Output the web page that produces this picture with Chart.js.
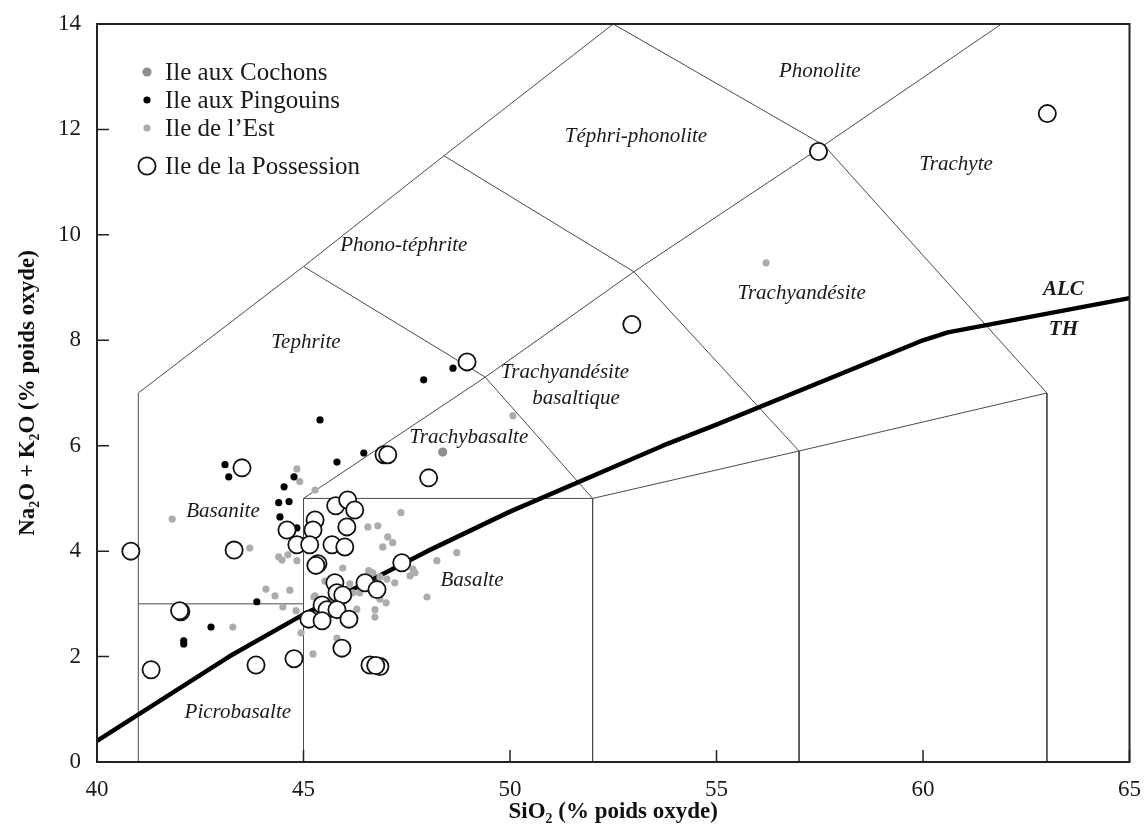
<!DOCTYPE html>
<html><head><meta charset="utf-8">
<script src="https://cdn.jsdelivr.net/npm/chart.js@4.4.0/dist/chart.umd.min.js"></script>
<style>html,body{margin:0;padding:0;background:#fff}canvas{display:block}</style>
</head><body>
<canvas id="c" width="1147" height="828"></canvas>
<script>
// ---------- data ----------
const xTicks = [40, 45, 50, 55, 60, 65];
const yTicks = [0, 2, 4, 6, 8, 10, 12, 14];

const seriesNames = ['Ile aux Cochons', 'Ile aux Pingouins', "Ile de l\u2019Est", 'Ile de la Possession'];

const cochonsSiO2 = [48.37];
const cochonsAlk  = [5.88];

const pingouinsSiO2 = [43.10, 43.19, 44.53, 44.77, 44.40, 44.65, 44.43, 44.84, 45.40, 45.81, 46.46, 47.91, 48.62, 43.87, 42.76, 42.10, 42.10];
const pingouinsAlk  = [5.64, 5.41, 5.22, 5.41, 4.92, 4.94, 4.65, 4.44, 6.49, 5.69, 5.86, 7.25, 7.47, 3.04, 2.56, 2.30, 2.24];

const estSiO2 = [44.84, 44.91, 41.82, 45.28, 43.70, 44.40, 44.48, 44.62, 44.84, 44.09, 44.31, 44.67, 44.50, 44.82, 43.29, 44.94, 45.23, 45.25,
                 47.36, 46.56, 46.80, 47.04, 47.16, 46.92, 48.71, 48.23, 45.95, 47.65, 47.70, 47.58, 46.58, 46.68, 46.85, 47.02, 47.21,
                 45.52, 46.12, 46.36, 46.20, 46.85, 47.00, 47.99, 46.73, 46.73, 45.81, 45.64, 45.28, 46.29, 56.20, 50.07];
const estAlk  = [5.56, 5.32, 4.61, 5.16, 4.06, 3.89, 3.83, 3.93, 3.82, 3.28, 3.15, 3.26, 2.94, 2.87, 2.56, 2.45, 2.05, 3.13,
                 4.73, 4.46, 4.48, 4.27, 4.16, 4.08, 3.97, 3.82, 3.68, 3.66, 3.59, 3.53, 3.63, 3.59, 3.51, 3.47, 3.40,
                 3.43, 3.38, 3.21, 3.21, 3.09, 3.02, 3.13, 2.89, 2.75, 2.35, 3.08, 3.15, 2.90, 9.47, 6.57];

const possessionSiO2 = [40.82, 41.31, 42.03, 42.00, 43.51, 43.32, 43.85, 44.77, 48.96, 52.95, 57.47, 63.01, 46.95, 47.04, 48.03,
                        45.78, 46.07, 46.24, 45.28, 45.23, 46.05, 44.60, 44.84, 45.15, 45.69, 46.00, 45.35, 45.30, 47.38,
                        45.76, 46.49, 46.78, 45.81, 45.95, 45.45, 45.57, 45.81, 45.13, 45.45, 46.10, 45.93, 46.61, 46.85, 46.75];
const possessionAlk  = [4.00, 1.75, 2.85, 2.87, 5.58, 4.02, 1.84, 1.96, 7.59, 8.30, 11.58, 12.30, 5.83, 5.83, 5.39,
                        4.86, 4.97, 4.78, 4.59, 4.40, 4.46, 4.40, 4.12, 4.12, 4.12, 4.08, 3.76, 3.73, 3.78,
                        3.40, 3.40, 3.27, 3.21, 3.17, 2.98, 2.89, 2.89, 2.71, 2.68, 2.71, 2.16, 1.84, 1.81, 1.83];

// TAS field boundaries (Le Bas et al.)
const fieldLines = [
  [[41,0],[41,7],[45,9.4],[48.4,11.5],[52.5,14]],
  [[41,3],[45,3]],
  [[45,0],[45,5],[52,5],[52,0]],
  [[45,5],[49.4,7.3],[53,9.3],[57.6,11.7],[61.9,14]],
  [[45,9.4],[49.4,7.3],[52,5]],
  [[48.4,11.5],[53,9.3],[57,5.9],[57,0]],
  [[52.5,14],[57.6,11.7],[63,7],[63,0]],
  [[52,5],[57,5.9],[63,7]]
];

// Alkaline / tholeiitic divide
const divideSiO2 = [40, 43.2, 45, 48, 50, 53.7, 55, 60, 60.6, 65];
const divideAlk  = [0.4, 2.0, 2.8, 4.0, 4.75, 6.0, 6.4, 8.0, 8.15, 8.8];

const regionNames = ['Phonolite', 'T\u00e9phri-phonolite', 'Trachyte', 'Phono-t\u00e9phrite', 'Trachyand\u00e9site', 'Tephrite',
                     'Trachyand\u00e9site', 'basaltique', 'Trachybasalte', 'Basanite', 'Basalte', 'Picrobasalte'];
const regionX = [57.5, 53.05, 60.8, 47.43, 57.06, 45.06, 51.33, 51.6, 49.0, 43.05, 49.08, 43.41];
const regionY = [13.1, 11.86, 11.33, 9.8, 8.88, 7.95, 7.38, 6.9, 6.15, 4.75, 3.44, 0.93];

const divideLabels = ['ALC', 'TH'];
const divideLabelX = [63.4, 63.4];
const divideLabelY = [8.96, 8.2];

// ---------- build ----------
const zip = (xs, ys) => xs.map((x, i) => ({x, y: ys[i]}));
const serif = "'Liberation Serif', 'Times New Roman', serif";

const styles = [
  {bg: '#8e8e8e', border: '#8e8e8e', r: 4.6, bw: 0},
  {bg: '#000000', border: '#000000', r: 3.6, bw: 0},
  {bg: '#acacac', border: '#acacac', r: 3.6, bw: 0},
  {bg: '#ffffff', border: '#111111', r: 8.6, bw: 1.8}
];

const datasets = [];
fieldLines.forEach(l => datasets.push({
  data: l.map(p => ({x: p[0], y: p[1]})), showLine: true, borderColor: '#4a4a4a', borderWidth: 1,
  pointRadius: 0, fill: false, order: 20, tension: 0
}));
datasets.push({data: zip(divideSiO2, divideAlk), showLine: true, borderColor: '#000', borderWidth: 4.5,
  pointRadius: 0, fill: false, order: 10, tension: 0, borderJoinStyle: 'round', borderCapStyle: 'butt'});

const seriesData = [zip(cochonsSiO2, cochonsAlk), zip(pingouinsSiO2, pingouinsAlk), zip(estSiO2, estAlk), zip(possessionSiO2, possessionAlk)];
const seriesOrder = [3, 2, 4, 1];
seriesData.forEach((d, i) => datasets.push({
  label: seriesNames[i], data: d, showLine: false,
  pointRadius: styles[i].r, pointBackgroundColor: styles[i].bg, pointBorderColor: styles[i].border,
  pointBorderWidth: styles[i].bw, pointHoverRadius: styles[i].r, order: seriesOrder[i]
}));

const decor = {
  id: 'decor',
  beforeDatasetsDraw(chart) {
    const {ctx, scales: {x, y}} = chart;
    ctx.save();
    ctx.fillStyle = '#1a1a1a';
    ctx.font = 'italic 21px ' + serif;
    ctx.textAlign = 'center'; ctx.textBaseline = 'middle';
    regionNames.forEach((n, i) => ctx.fillText(n, x.getPixelForValue(regionX[i]), y.getPixelForValue(regionY[i])));
    ctx.font = 'bold italic 21px ' + serif;
    divideLabels.forEach((n, i) => ctx.fillText(n, x.getPixelForValue(divideLabelX[i]), y.getPixelForValue(divideLabelY[i])));
    ctx.restore();
  },
  afterDraw(chart) {
    const {ctx, chartArea: a, scales: {x, y}} = chart;
    ctx.save();
    // frame
    ctx.strokeStyle = '#222'; ctx.lineWidth = 2;
    ctx.strokeRect(a.left, a.top, a.right - a.left, a.bottom - a.top);
    // inward ticks
    ctx.lineWidth = 1.5;
    ctx.beginPath();
    yTicks.forEach(v => { const py = y.getPixelForValue(v); ctx.moveTo(a.left, py); ctx.lineTo(a.left + 12, py); });
    xTicks.forEach(v => { const px = x.getPixelForValue(v); ctx.moveTo(px, a.bottom); ctx.lineTo(px, a.bottom - 12); });
    ctx.stroke();
    // legend
    const lx = a.left + 50, tx = a.left + 68;
    const rows = [a.top + 48, a.top + 76, a.top + 104, a.top + 142];
    ctx.font = '25px ' + serif; ctx.textAlign = 'left'; ctx.textBaseline = 'middle';
    seriesNames.forEach((n, i) => {
      const s = styles[i];
      ctx.beginPath(); ctx.arc(lx, rows[i], s.r, 0, Math.PI * 2);
      ctx.fillStyle = s.bg; ctx.fill();
      if (s.bw) { ctx.lineWidth = s.bw; ctx.strokeStyle = s.border; ctx.stroke(); }
      ctx.fillStyle = '#1a1a1a';
      ctx.fillText(n, tx, rows[i] + 1);
    });
    ctx.restore();
  }
};

new Chart(document.getElementById('c'), {
  type: 'scatter',
  data: {datasets},
  options: {
    responsive: false, animation: false,
    layout: {padding: {left: 0, right: 17, top: 24, bottom: 0}},
    plugins: {legend: {display: false}, tooltip: {enabled: false}},
    scales: {
      x: {
        type: 'linear', min: 40, max: 65,
        afterBuildTicks: s => { s.ticks = xTicks.map(v => ({value: v})); },
        afterFit: s => { s.height = 66; },
        grid: {display: false}, border: {display: false},
        ticks: {font: {family: serif, size: 23}, color: '#1a1a1a', padding: 6, maxRotation: 0},
        title: {display: true, text: 'SiO\u2082 (% poids oxyde)', color: '#111',
                font: {family: serif, size: 23, weight: 'bold'}, padding: {top: 0, bottom: 2}}
      },
      y: {
        type: 'linear', min: 0, max: 14,
        afterBuildTicks: s => { s.ticks = yTicks.map(v => ({value: v})); },
        afterFit: s => { s.width = 97; },
        grid: {display: false}, border: {display: false},
        ticks: {font: {family: serif, size: 23}, color: '#1a1a1a', padding: 8},
        title: {display: true, text: 'Na\u2082O + K\u2082O (% poids oxyde)', color: '#111',
                font: {family: serif, size: 23, weight: 'bold'}, padding: {top: 14, bottom: 0}}
      }
    }
  },
  plugins: [decor]
});
</script></body></html>
